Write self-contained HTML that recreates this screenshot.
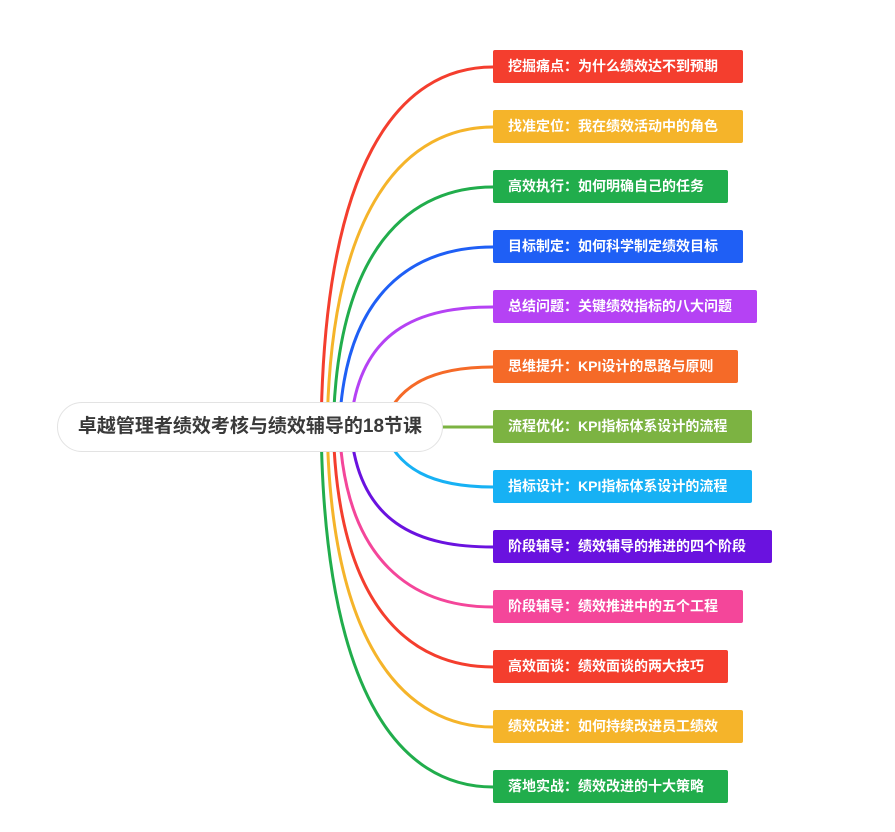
<!DOCTYPE html>
<html><head><meta charset="utf-8"><style>
body{margin:0;width:895px;height:832px;background:#fff;position:relative;overflow:hidden;font-family:"Liberation Sans","Noto Sans CJK SC",sans-serif}
.b{position:absolute;left:493px;height:33px;line-height:33px;color:#fff;font-weight:bold;font-size:14px;padding-left:15px;box-sizing:border-box;border-radius:2px;white-space:nowrap}
.c{position:absolute;left:57px;top:402px;width:386px;height:50px;border:1px solid #e3e3e3;border-radius:25px;background:#fff;box-sizing:border-box;text-align:center;line-height:48px;font-size:19px;font-weight:bold;color:#3a3a3a}
</style></head><body>
<svg width="895" height="832" style="position:absolute;left:0;top:0" fill="none" stroke-width="3">
<path d="M321 445 C321 160,400 67,493 67" stroke="#f43e2e"/>
<path d="M327 445 C327 200,410 127,493 127" stroke="#f5b42a"/>
<path d="M333 445 C333 240,415 187,493 187" stroke="#21ad4c"/>
<path d="M339 445 C339 285,420 247,493 247" stroke="#1f5ff5"/>
<path d="M350 445 C350 325,425 307,493 307" stroke="#b542f4"/>
<path d="M380 440 C390 380,440 367,493 367" stroke="#f56a28"/>
<path d="M360 427 L493 427" stroke="#7cb342"/>
<path d="M380 414 C390 474,440 487,493 487" stroke="#17b1f4"/>
<path d="M350 409 C350 529,425 547,493 547" stroke="#6a12df"/>
<path d="M339 409 C339 569,420 607,493 607" stroke="#f4469a"/>
<path d="M333 409 C333 614,415 667,493 667" stroke="#f43e2e"/>
<path d="M327 409 C327 654,410 727,493 727" stroke="#f5b42a"/>
<path d="M321 409 C321 694,400 787,493 787" stroke="#21ad4c"/>
</svg>
<div class="c">卓越管理者绩效考核与绩效辅导的18节课</div>
<div class="b" style="top:50px;width:250px;background:#f43e2e">挖掘痛点：为什么绩效达不到预期</div>
<div class="b" style="top:110px;width:250px;background:#f5b42a">找准定位：我在绩效活动中的角色</div>
<div class="b" style="top:170px;width:235px;background:#21ad4c">高效执行：如何明确自己的任务</div>
<div class="b" style="top:230px;width:250px;background:#1f5ff5">目标制定：如何科学制定绩效目标</div>
<div class="b" style="top:290px;width:264px;background:#b542f4">总结问题：关键绩效指标的八大问题</div>
<div class="b" style="top:350px;width:245px;background:#f56a28">思维提升：KPI设计的思路与原则</div>
<div class="b" style="top:410px;width:259px;background:#7cb342">流程优化：KPI指标体系设计的流程</div>
<div class="b" style="top:470px;width:259px;background:#17b1f4">指标设计：KPI指标体系设计的流程</div>
<div class="b" style="top:530px;width:279px;background:#6a12df">阶段辅导：绩效辅导的推进的四个阶段</div>
<div class="b" style="top:590px;width:250px;background:#f4469a">阶段辅导：绩效推进中的五个工程</div>
<div class="b" style="top:650px;width:235px;background:#f43e2e">高效面谈：绩效面谈的两大技巧</div>
<div class="b" style="top:710px;width:250px;background:#f5b42a">绩效改进：如何持续改进员工绩效</div>
<div class="b" style="top:770px;width:235px;background:#21ad4c">落地实战：绩效改进的十大策略</div>
</body></html>
